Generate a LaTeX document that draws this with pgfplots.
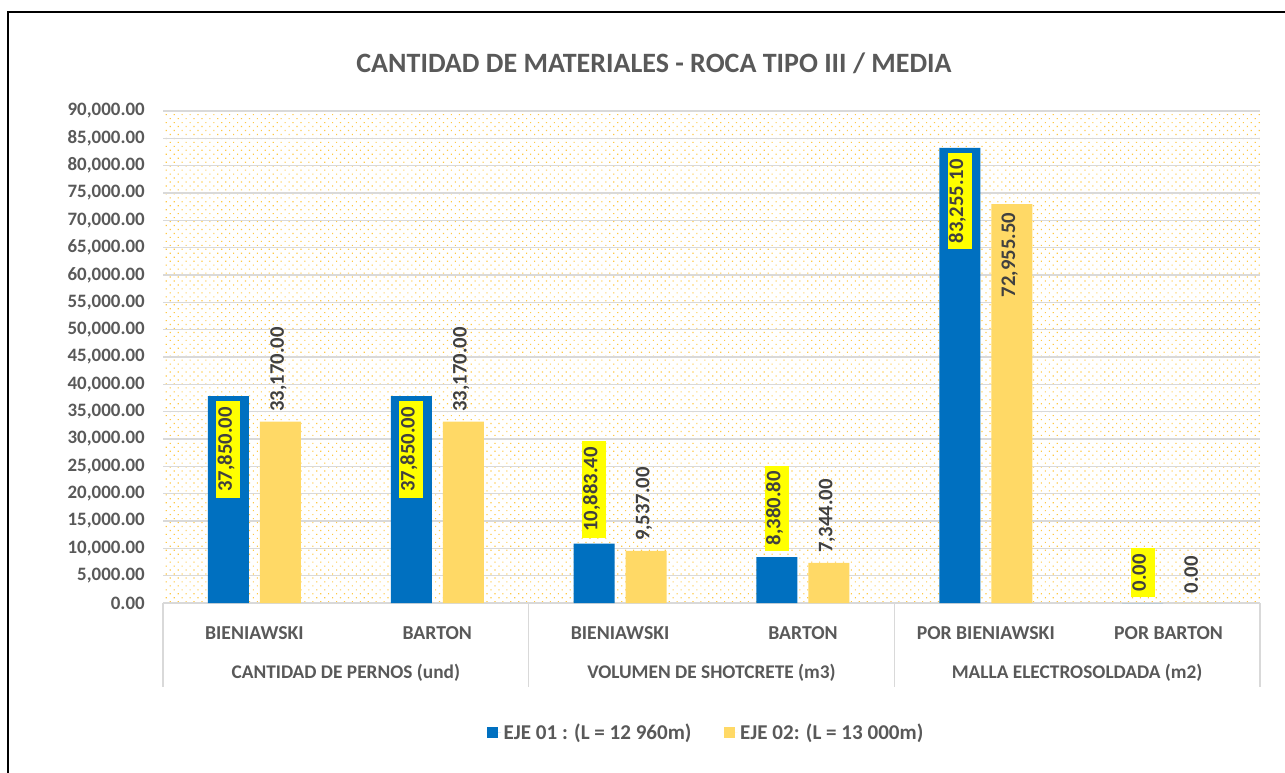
\documentclass[border=0pt]{standalone}
\usepackage{pgfplots}
\pgfplotsset{compat=1.18}
\usetikzlibrary{patterns.meta}
\usepackage{fontspec}
\setmainfont{Carlito}
\definecolor{blueA}{HTML}{0070C0}
\definecolor{yelA}{HTML}{FFD966}
\definecolor{txt}{HTML}{595959}
\definecolor{lbl}{HTML}{404040}
\definecolor{gridc}{HTML}{D9D9D9}
\definecolor{dotc}{HTML}{FFC845}
\definecolor{hly}{HTML}{FFFF00}

\begin{document}
\begin{tikzpicture}
\path[use as bounding box] (0,0) rectangle (963.75pt,-579pt);
\draw[line width=1.4pt, black] (6pt,-580pt) -- (6pt,-9pt) -- (964pt,-9pt);
\node[font=\bfseries\fontsize{21}{25}\selectfont, text=txt] at (490.5pt,-47.25pt) {CANTIDAD DE MATERIALES - ROCA TIPO III / MEDIA};
\begin{axis}[
  at={(122.25pt,-452.25pt)}, anchor=south west,
  scale only axis, width=822.75pt, height=369pt,
  ybar, bar width=30.75pt,
  clip=false,
  xmin=-0.5, xmax=5.5, ymin=0, ymax=90000,
  xtick={0,...,5},
  xticklabels={BIENIAWSKI,BARTON,BIENIAWSKI,BARTON,POR BIENIAWSKI,POR BARTON},
  ytick={0,5000,...,90000},
  scaled y ticks=false,
  /pgf/number format/assume math mode=true,
  y tick label style={/pgf/number format/.cd, fixed, fixed zerofill, precision=2, 1000 sep={,}, /tikz/.cd,
    font=\bfseries\fontsize{14.2}{16}\selectfont, text=txt, anchor=east, inner sep=0pt, xshift=-13.5pt},
  x tick label style={font=\bfseries\fontsize{14.8}{17}\selectfont, text=txt, anchor=center, yshift=-18.5pt},
  axis x line*=bottom, axis y line*=left,
  y axis line style={draw=none},
  x axis line style={draw=gridc, line width=1.1pt},
  tick style={draw=none},
  ymajorgrids,
  major grid style={draw=gridc, line width=1.1pt},
  axis background/.style={pattern={Dots[distance=4.2pt,angle=45,radius=0.6pt]}, pattern color=dotc},
  legend style={at={(0.4954,-0.2642)}, anchor=center, draw=none, fill=none, legend columns=2,
    font=\bfseries\fontsize{15.8}{18}\selectfont, text=txt,
    /tikz/every even column/.append style={column sep=22pt}},
  legend cell align=left,
  sqlegend/.style={legend image code/.code={\fill[##1] (0pt,-4.125pt) rectangle (8.25pt,4.125pt);\path (0pt,0pt) -- (10.5pt,0pt);}},
  lblnum/.style={nodes near coords={\pgfmathprintnumber[fixed,fixed zerofill,precision=2,1000 sep={,}]{\pgfplotspointmeta}}},
  lblbase/.style={every node near coord/.append style={rotate=90, text=lbl,
    font=\bfseries\fontsize{15.5}{18}\selectfont, inner xsep=4.5pt, inner ysep=5pt,
    text height=0.65em, text depth=0.15em, outer ysep=0pt}},
]
% bars
\addplot[fill=blueA, draw=none, bar shift=-19.5pt, sqlegend] coordinates {(0,37850) (1,37850) (2,10883.4) (3,8380.8) (4,83255.1) (5,0)};
\addplot[fill=yelA, draw=none, bar shift=19.5pt, sqlegend] coordinates {(0,33170) (1,33170) (2,9537) (3,7344) (4,72955.5) (5,0)};
\legend{EJE 01 : (L = 12 960m), EJE 02: (L = 13 000m)}
% data labels EJE 01
\addplot[draw=none, fill=none, forget plot, bar shift=-19.5pt, lblnum, lblbase,
  every node near coord/.append style={anchor=east, fill=hly, outer xsep=4pt}]
  coordinates {(0,37850) (1,37850) (4,83255.1)};
\addplot[draw=none, fill=none, forget plot, bar shift=-19.5pt, lblnum, lblbase,
  every node near coord/.append style={anchor=west, fill=hly, outer xsep=4.5pt}]
  coordinates {(2,10883.4) (3,8380.8) (5,0)};
% data labels EJE 02
\addplot[draw=none, fill=none, forget plot, bar shift=19.5pt, lblnum, lblbase,
  every node near coord/.append style={anchor=east, outer xsep=2pt}]
  coordinates {(4,72955.5)};
\addplot[draw=none, fill=none, forget plot, bar shift=19.5pt, lblnum, lblbase,
  every node near coord/.append style={anchor=west, outer xsep=3pt}]
  coordinates {(0,33170) (1,33170) (2,9537) (3,7344) (5,0)};
\pgfplotsinvokeforeach{-0.5,1.5,3.5,5.5}{
  \draw[gridc, line width=1.1pt] (axis cs:#1,0) -- ++(0pt,-63pt);
}
\node[font=\bfseries\fontsize{14.5}{17}\selectfont, text=txt, yshift=-52.5pt] at (axis cs:0.5,0) {CANTIDAD DE PERNOS (und)};
\node[font=\bfseries\fontsize{14.5}{17}\selectfont, text=txt, yshift=-52.5pt] at (axis cs:2.5,0) {VOLUMEN DE SHOTCRETE (m3)};
\node[font=\bfseries\fontsize{14.5}{17}\selectfont, text=txt, yshift=-52.5pt] at (axis cs:4.5,0) {MALLA ELECTROSOLDADA (m2)};
\end{axis}
\end{tikzpicture}
\end{document}
